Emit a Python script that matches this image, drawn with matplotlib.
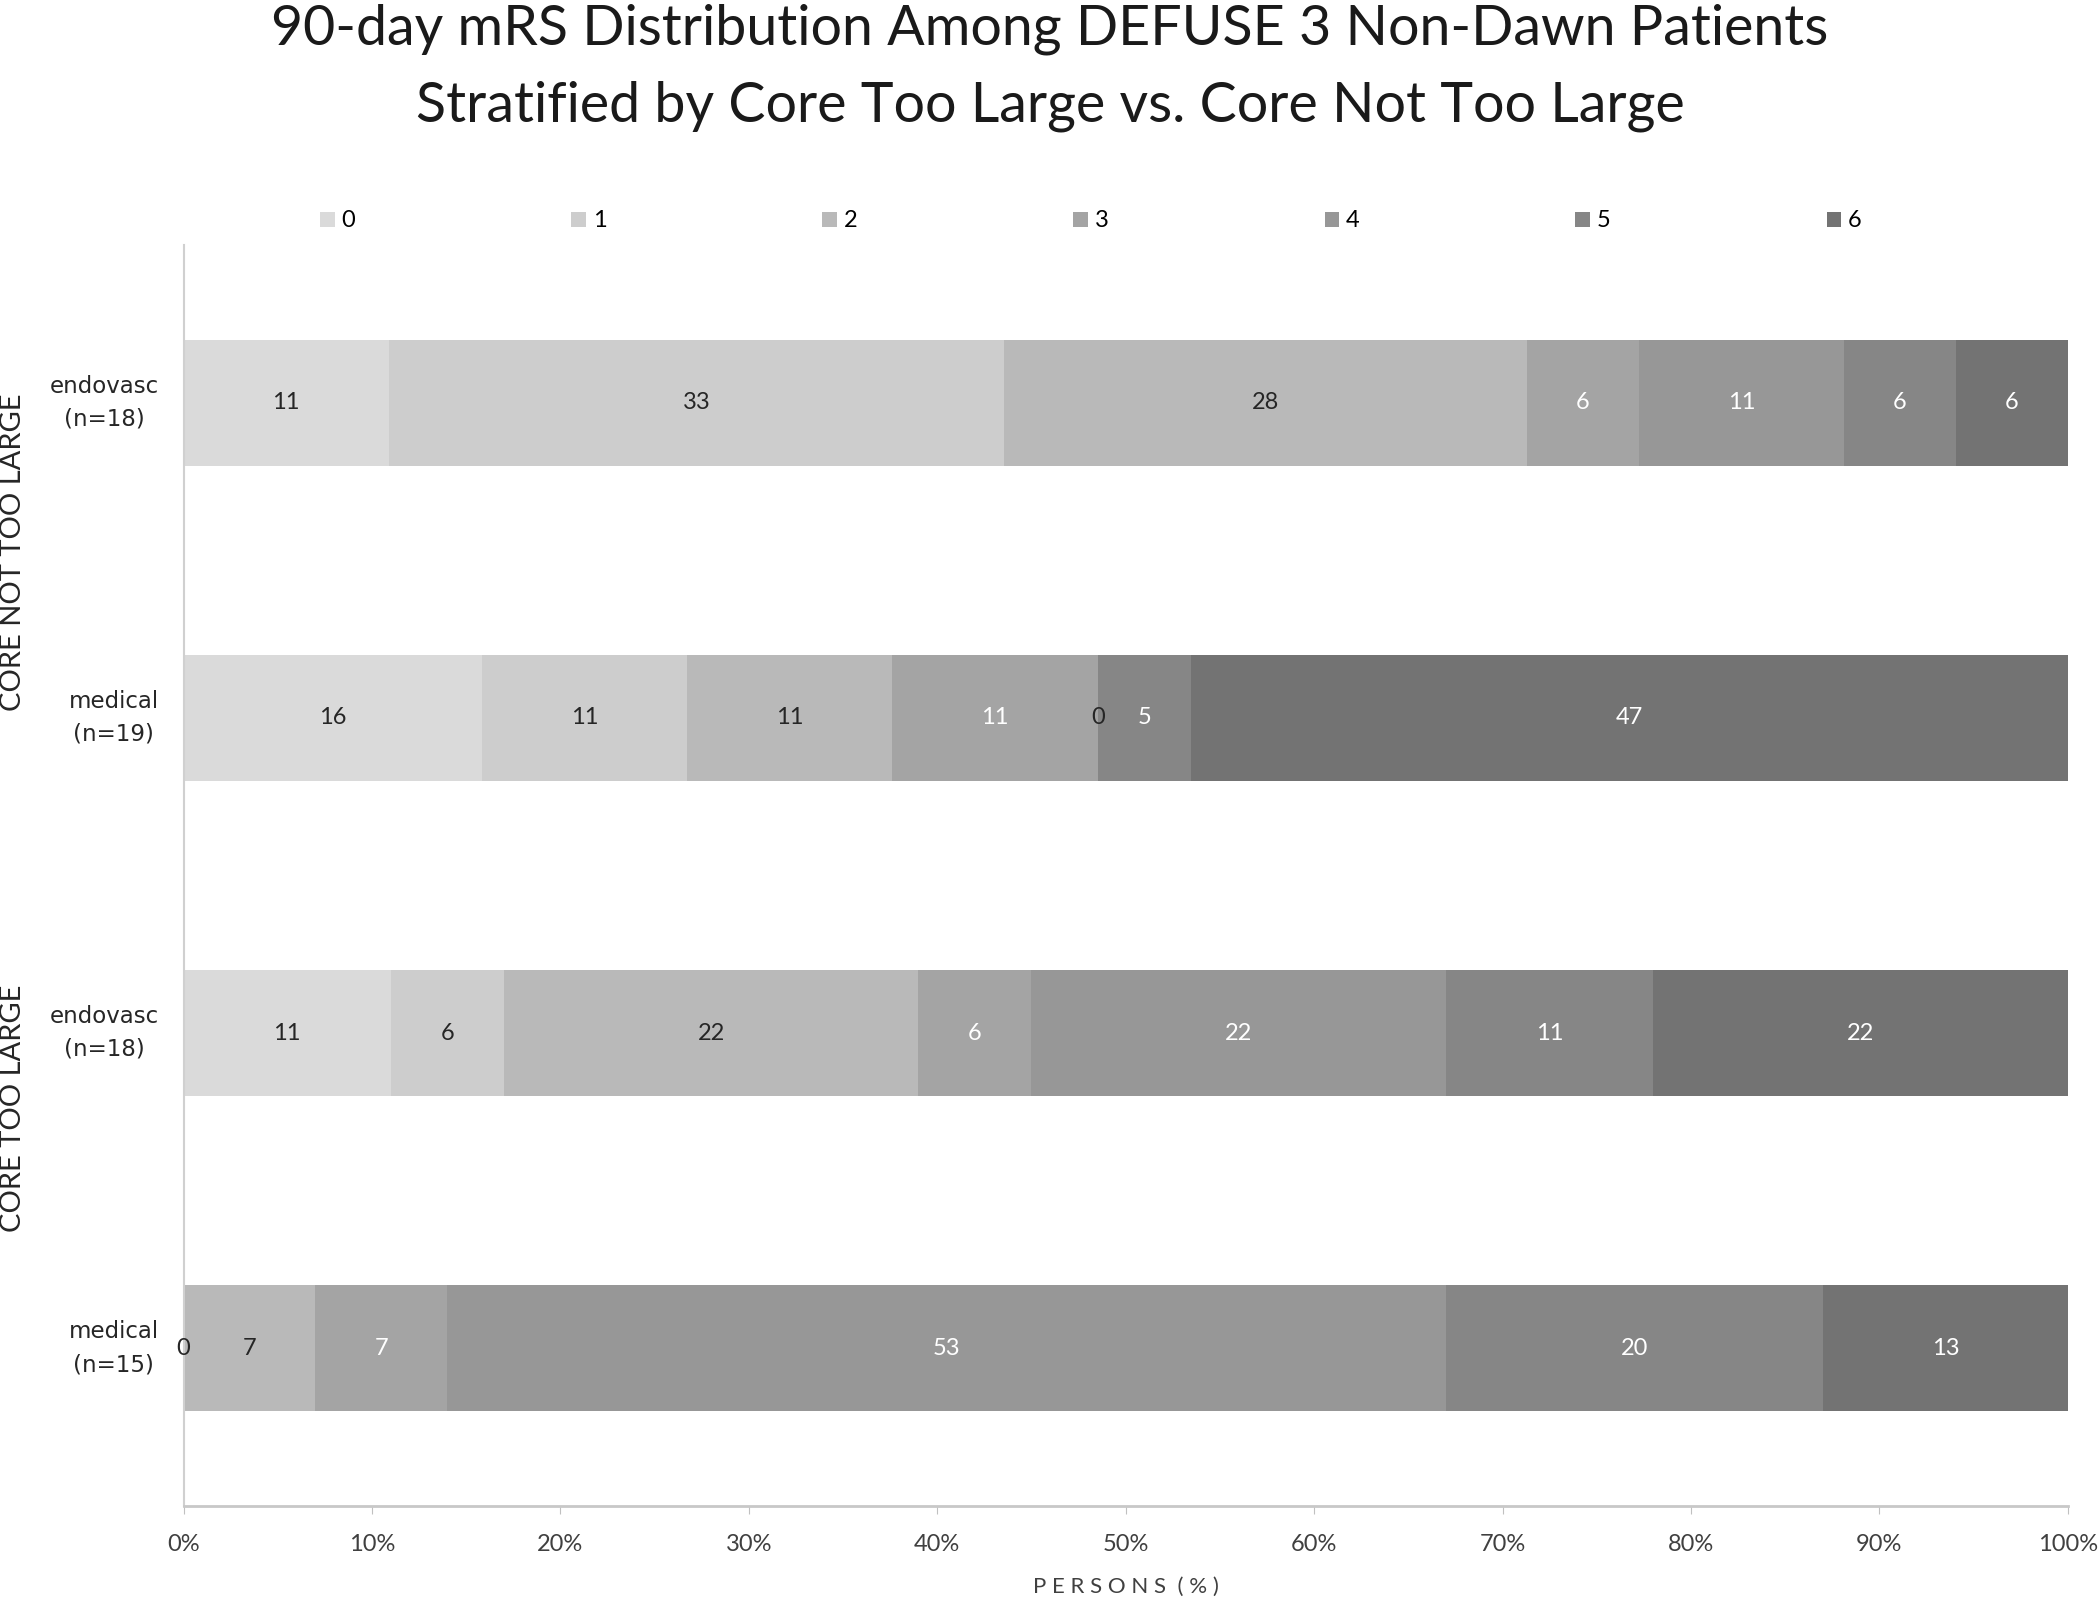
import numpy as np
import matplotlib.pyplot as plt
from matplotlib.patches import Patch

# Data (percent of persons per mRS score)
mrs_scores = ['0', '1', '2', '3', '4', '5', '6']
row_labels = ['endovasc\n(n=18)', 'medical\n(n=19)', 'endovasc\n(n=18)', 'medical\n(n=15)']
group_labels = ['CORE NOT TOO LARGE', 'CORE TOO LARGE']
endo_not_large = [11, 33, 28, 6, 11, 6, 6]
med_not_large = [16, 11, 11, 11, 0, 5, 47]
endo_large = [11, 6, 22, 6, 22, 11, 22]
med_large = [0, None, 7, 7, 53, 20, 13]   # score 1 not present in source

rows = [endo_not_large, med_not_large, endo_large, med_large]
colors = ['#dadada', '#cdcdcd', '#b9b9b9', '#a4a4a4', '#979797', '#868686', '#737373']
label_colors = ['#262626', '#262626', '#262626', 'white', 'white', 'white', 'white']

font = 'Lato'
plt.rcParams['font.family'] = font

fig = plt.figure(figsize=(21, 16.01), dpi=100)
ax = fig.add_axes([0.0874, 0.0594, 0.8973, 0.7876])

for i, vals in enumerate(rows):
    v = np.array([0 if x is None else x for x in vals], dtype=float)
    widths = v / v.sum() * 100
    left = 0
    for j, w in enumerate(widths):
        ax.barh(i, w, left=left, height=0.4, color=colors[j], edgecolor='none')
        if vals[j] is not None:
            ax.text(left + w / 2, i, str(vals[j]), ha='center', va='center',
                    fontsize=17, color=label_colors[j] if w > 0 else '#262626')
        left += w

ax.set_ylim(3.5, -0.5)
ax.set_xlim(0, 100)
ax.set_yticks(range(len(row_labels)))
ax.set_yticklabels(row_labels, fontsize=16.5, family='DejaVu Sans', color='#262626',
                   multialignment='center', linespacing=1.55, va='center')
ax.set_xticks(np.arange(0, 101, 10))
ax.set_xticklabels([f'{t}%' for t in range(0, 101, 10)], fontsize=17, color='#404040')
ax.tick_params(axis='y', length=0, pad=18)
ax.tick_params(axis='x', length=6, color='#c0c0c0', pad=14)
for s in ['top', 'right']:
    ax.spines[s].set_visible(False)
ax.spines['left'].set_color('#d0d0d0')
ax.spines['bottom'].set_color('#c8c8c8')
ax.spines['left'].set_linewidth(1.5)
ax.spines['bottom'].set_linewidth(2)
ax.set_xlabel('P E R S O N S  ( % )', fontsize=16, color='#404040', labelpad=16)

# Group labels at far left
fig.text(0.006, 0.655, group_labels[0], rotation=90, ha='center', va='center',
         fontsize=21, color='#262626')
fig.text(0.006, 0.308, group_labels[1], rotation=90, ha='center', va='center',
         fontsize=21, color='#262626')

handles = [Patch(facecolor=c, edgecolor='none') for c in colors]
fig.legend(handles, mrs_scores, loc='center', bbox_to_anchor=(0.5195, 0.862), ncol=7,
           frameon=False, fontsize=17, handlelength=0.6, handleheight=0.6,
           handletextpad=0.3, columnspacing=9.15)

fig.text(0.5, 0.998, '90-day mRS Distribution Among DEFUSE 3 Non-Dawn Patients\n'
         'Stratified by Core Too Large vs. Core Not Too Large',
         ha='center', va='top', fontsize=40, color='#1a1a1a', linespacing=1.62)

fig.savefig('out.png', dpi=100)
